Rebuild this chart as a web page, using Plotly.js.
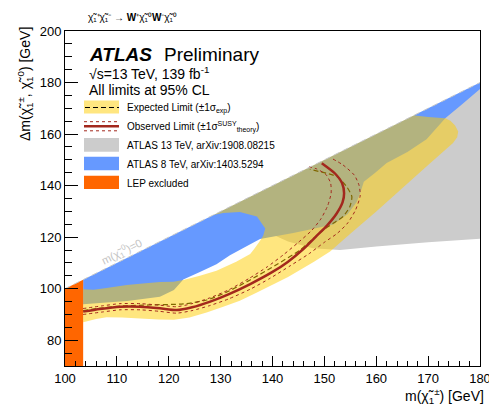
<!DOCTYPE html>
<html>
<head>
<meta charset="utf-8">
<script src="https://cdn.plot.ly/plotly-3.0.1.min.js"></script>
<style>html,body{margin:0;padding:0;background:#fff;}#chart{width:489px;height:406px;}</style>
</head>
<body>
<div id="chart"></div>
<script>
// ---- axis ticks ----
const xTicks = [100, 110, 120, 130, 140, 150, 160, 170, 180];
const yTicks = [80, 100, 120, 140, 160, 180, 200];

// ---- kinematic limit m(chi0)=0 ----
const diagX = [100, 180];
const diagY = [100, 180];
// region above the kinematic limit (left blank)
const forbidX = [99, 181, 181, 99];
const forbidY = [99, 181, 201, 201];

// ---- LEP excluded ----
const lepX = [100, 100, 103.5, 103.5];
const lepY = [70, 101, 104.5, 70];

// ---- ATLAS 13 TeV, arXiv:1908.08215 (visible part) ----
const atlas13X = [139, 139.5, 143, 147.8, 153, 160, 170, 180, 180, 139];
const atlas13Y = [124, 121.5, 118.3, 115.7, 115, 116.4, 118, 119.4, 180, 139];

// ---- ATLAS 8 TeV, arXiv:1403.5294 ----
const atlas8X = [103.5, 180, 180, 176.5, 173.3, 169.7, 166, 162, 159.8, 157.6, 156.9, 156.2, 154.5, 151.7, 147.2, 144, 140.8, 138.9, 137.6, 135, 131.8, 129.2, 126, 122.8, 121, 118.3, 112, 108, 103.5];
const atlas8Y = [104.5, 181, 177.5, 171.5, 166.1, 158, 153, 148.8, 145, 141.5, 137, 133.5, 129, 124.9, 123, 121.6, 120.4, 119.8, 119.3, 116.5, 113, 109.5, 106.5, 103.6, 99.5, 96.9, 95.2, 94.6, 94];

// ---- Expected limit +-1 sigma band ----
const bandX = [103.5, 106, 108, 111, 114.5, 118, 121, 124, 127.3, 130.5, 133.7, 137, 140, 143, 145.3, 148, 151.1, 155, 160, 165, 170, 173, 174.8, 175.6, 175.8, 175.2, 174.3, 173.3, 170, 167.5, 166.8, 163, 159, 155, 150, 145, 140, 135, 130, 126.5, 130.5, 133.7, 137, 138.6, 138.2, 137.6, 136.5, 135.7, 133, 129.2, 126, 122.8, 120.9, 118.3, 115, 111.9, 108, 105.5, 103.5];
const bandY = [87, 88.2, 88.9, 88.8, 88.4, 88, 87.9, 88.8, 90.8, 93, 95.3, 98.5, 101.5, 104.5, 107.3, 110.5, 114.4, 121.3, 130, 139, 148, 153.3, 156.5, 158.8, 161, 163.3, 165.2, 166.1, 166.6, 167.2, 168, 164.2, 160.2, 156.2, 151.2, 146.2, 141.2, 136.2, 131.2, 127.7, 129.4, 129.8, 128, 123.4, 120.5, 118.6, 115.5, 113.5, 110.5, 107, 105, 103.4, 102.7, 102.6, 102, 101.4, 100.3, 99.6, 99.8];

// ---- Expected limit ----
const expX = [103.5, 107, 111.2, 116.4, 122.8, 127.3, 131, 135.7, 140.5, 145.3, 147.9, 149.8, 151.7, 153.6, 154.9, 155.3, 154.3, 152.4, 150.4, 147.2];
const expY = [91.5, 92.5, 93.3, 93.7, 94.1, 95.6, 98.5, 103.4, 109, 115, 119.5, 122.8, 125.4, 128, 131.8, 135.7, 139.6, 143.5, 144.8, 146.3];

// ---- Observed limit ----
const obsX = [103.5, 106.7, 110.6, 114.5, 118.3, 121.5, 124.5, 128, 131.5, 135.7, 140, 143, 146, 148.5, 150.5, 152.3, 153.5, 153.8, 153.4, 152, 149.5];
const obsY = [91.1, 92.1, 93.0, 93.0, 92.4, 91.7, 92.8, 95.0, 97.8, 101.8, 106.5, 110.5, 115.5, 120.5, 124.5, 129, 133.5, 137, 141, 144.8, 148.7];

// ---- Observed +1 sigma theory ----
const obsUpX = [103.5, 107, 110.6, 114.5, 118.3, 121.5, 124.5, 128, 131.5, 135.5, 139, 142, 145, 147.5, 149.3, 150.6, 151.3, 151.2, 150.3, 148.5, 146.5];
const obsUpY = [92.3, 93.3, 94.2, 94.2, 93.6, 93.0, 94.2, 96.5, 99.5, 104, 108.5, 113, 118, 122.5, 127, 132, 137, 141, 144.3, 146.5, 147.5];

// ---- Observed -1 sigma theory ----
const obsDnX = [103.5, 107, 110.6, 114.5, 118.3, 121.5, 124.5, 128, 131.5, 135.7, 139.5, 143.5, 147, 150, 152.5, 154.5, 156, 156.9, 156.7, 155.8, 153.6, 151.4];
const obsDnY = [90.0, 90.9, 91.8, 91.8, 91.2, 90.5, 91.5, 93.5, 96, 99.8, 104, 109, 113.5, 118, 121.5, 125.5, 130.5, 136, 140, 144, 148, 150.6];

// ---- legend texts ----
const legendLabels = [
  'Expected Limit (±1σ<sub>exp</sub>)',
  'Observed Limit (±1σ<sup>SUSY</sup><sub>theory</sub>)',
  'ATLAS 13 TeV, arXiv:1908.08215',
  'ATLAS 8 TeV, arXiv:1403.5294',
  'LEP excluded'
];

const FONT = 'Liberation Sans, Arial, Helvetica, sans-serif';
const C = {
  gray: '#cccccc',
  blue: '#6699ff',
  yellowA: 'rgba(255,205,0,0.5)',
  yellowL: '#ffe680',
  orange: '#ff6600',
  red: '#a3281d'
};

const poly = (x, y, color) => ({x, y, mode: 'lines', fill: 'toself', fillcolor: color,
  line: {width: 0, simplify: false}, hoverinfo: 'skip'});
const curve = (x, y, line) => ({x, y, mode: 'lines', line: Object.assign({simplify: false}, line), hoverinfo: 'skip'});

const traces = [
  poly(atlas13X, atlas13Y, C.gray),
  poly(atlas8X, atlas8Y, C.blue),
  curve(expX, expY, {color: '#000', width: 1.2, dash: '5px,3px', shape: 'spline', smoothing: 0.6}),
  poly(bandX, bandY, C.yellowA),
  poly(lepX, lepY, C.orange),
  poly(forbidX, forbidY, '#ffffff'),
  curve(obsUpX, obsUpY, {color: C.red, width: 1, dash: 'dot', shape: 'spline', smoothing: 0.6}),
  curve(obsDnX, obsDnY, {color: C.red, width: 1, dash: 'dot', shape: 'spline', smoothing: 0.6}),
  curve(obsX, obsY, {color: C.red, width: 2.5, shape: 'spline', smoothing: 0.6}),
  curve(diagX, diagY, {color: '#c8c8c8', width: 1, dash: '6px,4px'})
];

// plot area in pixels: left 65, right 480, top 31, bottom 366
const L = 65, R = 480, T = 31, B = 366;
const px = v => (v - L) / (R - L);
const py = v => (B - v) / (B - T);

const shapes = [];
const boxX0 = px(84), boxX1 = px(119);
shapes.push({type: 'rect', xref: 'paper', yref: 'paper', x0: boxX0, x1: boxX1, y0: py(113.5), y1: py(100.5), fillcolor: C.yellowL, line: {width: 0}});
shapes.push({type: 'line', xref: 'paper', yref: 'paper', x0: px(85), x1: px(119), y0: py(107.5), y1: py(107.5), line: {color: '#000', width: 1.2, dash: '5px,3px'}});
shapes.push({type: 'line', xref: 'paper', yref: 'paper', x0: boxX0, x1: boxX1, y0: py(121.7), y1: py(121.7), line: {color: C.red, width: 1, dash: 'dot'}});
shapes.push({type: 'line', xref: 'paper', yref: 'paper', x0: boxX0, x1: boxX1, y0: py(126.3), y1: py(126.3), line: {color: C.red, width: 2.5}});
shapes.push({type: 'line', xref: 'paper', yref: 'paper', x0: boxX0, x1: boxX1, y0: py(130.8), y1: py(130.8), line: {color: C.red, width: 1, dash: 'dot'}});
shapes.push({type: 'rect', xref: 'paper', yref: 'paper', x0: boxX0, x1: boxX1, y0: py(151.7), y1: py(138), fillcolor: C.gray, line: {width: 0}});
shapes.push({type: 'rect', xref: 'paper', yref: 'paper', x0: boxX0, x1: boxX1, y0: py(170.3), y1: py(156.7), fillcolor: C.blue, line: {width: 0}});
shapes.push({type: 'rect', xref: 'paper', yref: 'paper', x0: boxX0, x1: boxX1, y0: py(189), y1: py(175.7), fillcolor: C.orange, line: {width: 0}});

const legendY = [108, 127, 145, 164, 183];
const annotations = [];
legendLabels.forEach((t, i) => {
  annotations.push({xref: 'paper', yref: 'paper', x: px(125), y: py(legendY[i]), xanchor: 'left', yanchor: 'middle',
    text: t, showarrow: false, font: {family: FONT, size: 10, color: '#000'}});
});
annotations.push({xref: 'paper', yref: 'paper', x: px(87), y: py(55), xanchor: 'left', yanchor: 'middle',
  text: '<b><i>ATLAS</i></b>', showarrow: false, font: {family: FONT, size: 19, color: '#000'}});
annotations.push({xref: 'paper', yref: 'paper', x: px(162), y: py(55), xanchor: 'left', yanchor: 'middle',
  text: 'Preliminary', showarrow: false, font: {family: FONT, size: 19, color: '#000'}});
annotations.push({xref: 'paper', yref: 'paper', x: px(87), y: py(73), xanchor: 'left', yanchor: 'middle',
  text: '√s=13 TeV, 139 fb<sup>-1</sup>', showarrow: false, font: {family: FONT, size: 14, color: '#000'}});
annotations.push({xref: 'paper', yref: 'paper', x: px(87), y: py(89.5), xanchor: 'left', yanchor: 'middle',
  text: 'All limits at 95% CL', showarrow: false, font: {family: FONT, size: 14, color: '#000'}});
annotations.push({xref: 'paper', yref: 'paper', x: px(86), y: py(18), xanchor: 'left', yanchor: 'middle',
  text: 'χ̃₁⁺χ̃₁⁻ → <b>W</b>⁺χ̃₁⁰<b>W</b>⁻χ̃₁⁰',
  showarrow: false, font: {family: FONT, size: 10, color: '#000'}});
annotations.push({xref: 'paper', yref: 'paper', x: px(25), y: py(84), xanchor: 'center', yanchor: 'middle', textangle: -90,
  text: 'Δm(χ̃<sub>1</sub><sup>±</sup>, χ̃<sub>1</sub><sup>0</sup>) [GeV]', showarrow: false, font: {family: FONT, size: 14, color: '#000'}});
annotations.push({xref: 'paper', yref: 'paper', x: px(444), y: py(396), xanchor: 'center', yanchor: 'middle',
  text: 'm(χ̃<sub>1</sub><sup>±</sup>) [GeV]', showarrow: false, font: {family: FONT, size: 14, color: '#000'}});
annotations.push({xref: 'x', yref: 'y', x: 110.9, y: 114.4, xanchor: 'center', yanchor: 'middle', textangle: -26.4,
  text: 'm(χ̃<sub>1</sub><sup>0</sup>)=0', showarrow: false, font: {family: FONT, size: 11, color: '#c4c4c4'}});

const layout = {
  width: 489, height: 406,
  margin: {l: L, r: 489 - R, t: T, b: 406 - B, pad: 0},
  paper_bgcolor: '#fff', plot_bgcolor: '#fff',
  showlegend: false,
  xaxis: {
    range: [100, 180], tickvals: xTicks, ticktext: xTicks.map(String),
    showgrid: false, zeroline: false, showline: true, linecolor: '#000', linewidth: 1, mirror: true,
    ticks: 'inside', ticklen: 10, tickwidth: 1, tickcolor: '#000', ticklabeloverflow: 'allow',
    minor: {dtick: 2, tick0: 100, ticks: 'inside', ticklen: 5, tickwidth: 1, tickcolor: '#000', showgrid: false},
    tickfont: {family: FONT, size: 13, color: '#000'}
  },
  yaxis: {
    range: [70, 200], tickvals: yTicks, ticktext: yTicks.map(String),
    showgrid: false, zeroline: false, showline: true, linecolor: '#000', linewidth: 1, mirror: true,
    ticks: 'inside', ticklen: 13, tickwidth: 1, tickcolor: '#000', ticklabeloverflow: 'allow',
    minor: {dtick: 5, tick0: 70, ticks: 'inside', ticklen: 6.5, tickwidth: 1, tickcolor: '#000', showgrid: false},
    tickfont: {family: FONT, size: 13, color: '#000'}
  },
  shapes: shapes,
  annotations: annotations
};

Plotly.newPlot('chart', traces, layout, {staticPlot: true, displayModeBar: false});
</script>
</body>
</html>
